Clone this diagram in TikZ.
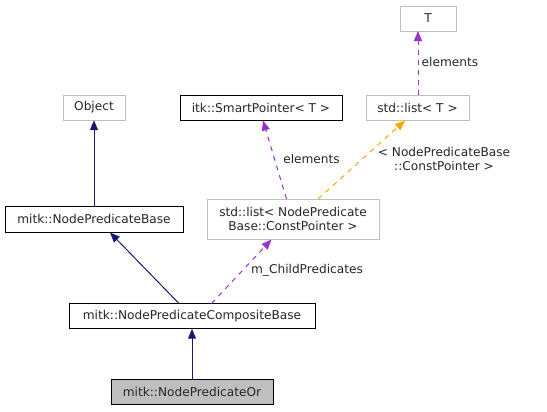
\documentclass[tikz,border=0pt]{standalone}
\usepackage{fontspec}
\setmainfont{DejaVu Sans}
\usetikzlibrary{arrows.meta}
\definecolor{boxgray}{HTML}{BFBFBF}
\definecolor{navyline}{HTML}{191970}
\definecolor{usepurple}{HTML}{9A32CD}
\definecolor{tmplorange}{HTML}{FFA500}
\begin{document}
\begin{tikzpicture}[x=1bp,y=-1bp,
  font=\fontsize{12.2}{14.5}\selectfont,
  cls/.style={draw=black,rectangle,inner sep=0pt,align=center,text=black!85},
  ext/.style={draw=boxgray,rectangle,inner sep=0pt,align=center,text=black!85},
  inherit/.style={draw=navyline,line width=1bp,-{Triangle[length=10bp,width=8bp]}},
  member/.style={draw=usepurple,line width=1bp,dash pattern=on 5bp off 5bp,-{Triangle[length=10bp,width=8bp]}},
  tmpl/.style={draw=tmplorange,line width=1bp,dash pattern=on 5bp off 5bp,-{Triangle[length=10bp,width=8bp]}},
  lbl/.style={text=black!85,inner sep=0pt,align=center}]
\useasboundingbox (0,0) rectangle (547,411);
\node[ext,minimum width=56bp,minimum height=25bp] (T) at (428,18.5) {T};
\node[ext,minimum width=62bp,minimum height=25bp] (obj) at (94,107.5) {Object};
\node[cls,minimum width=162bp,minimum height=25bp] (sp) at (261,107.5) {itk::SmartPointer< T >};
\node[ext,minimum width=103bp,minimum height=25bp] (listT) at (417.5,107.5) {std::list< T >};
\node[cls,minimum width=178bp,minimum height=26bp] (npb) at (94,219) {mitk::NodePredicateBase};
\node[ext,minimum width=172bp,minimum height=40bp] (listNP) at (293,219) {std::list< NodePredicate\\Base::ConstPointer >};
\node[cls,minimum width=246bp,minimum height=25bp] (comp) at (192,316) {mitk::NodePredicateCompositeBase};
\node[cls,fill=boxgray,minimum width=162bp,minimum height=25bp] (or) at (192,391.5) {mitk::NodePredicateOr};
% connector ends off the box centres
\coordinate (compA) at (179,303.5);
\coordinate (npbA) at (110,232.5);
\coordinate (compB) at (211.5,303.5);
\coordinate (listNPin) at (271.5,239.5);
\coordinate (listNPa) at (286.5,199);
\coordinate (spin) at (263,120.5);
\coordinate (listNPb) at (318,199);
\coordinate (listTin) at (405,120.5);
\coordinate (listTtop) at (418,95);
\coordinate (Tin) at (418,31);
\draw[inherit] (or) -- (comp);
\draw[inherit] (compA) -- (npbA);
\draw[inherit] (npb) -- (obj);
\draw[member] (compB) -- (listNPin);
\draw[member] (listNPa) -- (spin);
\draw[tmpl] (listNPb) -- (listTin);
\draw[member] (listTtop) -- (Tin);
\node[lbl,anchor=west] (lelemT) at (421.5,62) {elements};
\node[lbl] (lelemSP) at (311.5,158.5) {elements};
\node[lbl] (ltmpl) at (444,159) {< NodePredicateBase\\::ConstPointer >};
\node[lbl] (lchild) at (307,270.5) {m\_ChildPredicates};
\end{tikzpicture}
\end{document}
